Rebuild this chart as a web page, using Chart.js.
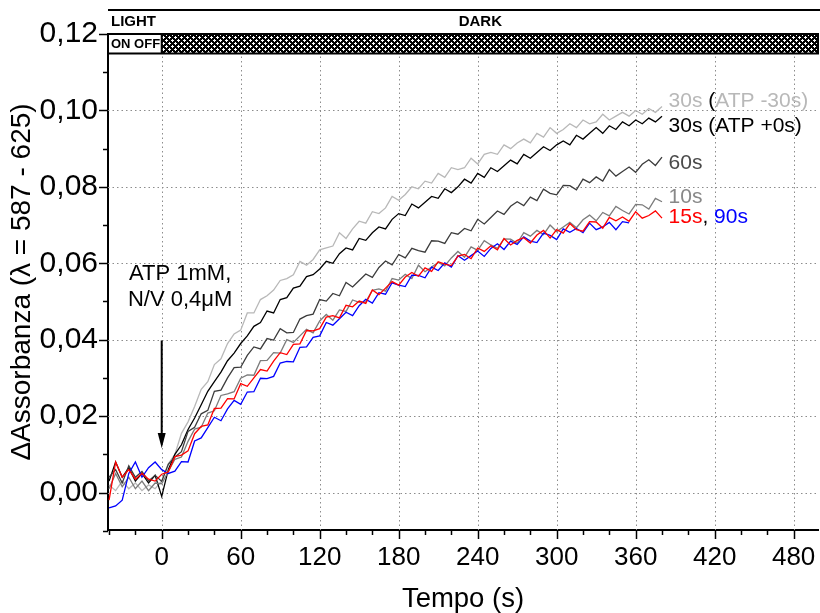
<!DOCTYPE html>
<html>
<head>
<meta charset="utf-8">
<script src="https://cdn.jsdelivr.net/npm/chart.js@4.4.0/dist/chart.umd.min.js"></script>
<style>
html, body { margin: 0; padding: 0; background: #fff; }
#wrap { width: 820px; height: 613px; }
</style>
</head>
<body>
<div id="wrap"><canvas id="grafico"></canvas></div>
<script>
// tempo (s) e ΔAssorbanza x 1000
var tempo = [-40, -35, -30, -25, -20, -15, -10, -5, 0, 5, 10, 15, 20, 25, 30, 35, 40, 45, 50, 55, 60, 65, 70, 75, 80, 85, 90, 95,
    100, 105, 110, 115, 120, 125, 130, 135, 140, 145, 150, 155, 160, 165, 170, 175, 180, 185, 190, 195, 200, 205, 210, 215,
    220, 225, 230, 235, 240, 245, 250, 255, 260, 265, 270, 275, 280, 285, 290, 295, 300, 305, 310, 315, 320, 325, 330, 335,
    340, 345, 350, 355, 360, 365, 370, 375, 380];

var atpMeno30 = [2, 0.5, 3, 1, 2.5, 0.5, 2, 1,
    3, 7.5, 10, 15.5, 18.5, 22.5, 27, 29, 33.5, 35, 39, 41.5, 42.5, 47, 47, 50.5, 51.5, 53, 55.5, 56,
    57, 60.5, 59.5, 61, 63.5, 64, 64.5, 68, 66.5, 69, 71, 70.5, 73.5, 73, 74.5, 77.5, 76.5, 78, 80, 79.5, 81.5, 81, 83.5,
    82.5, 85, 84.5, 85, 87.5, 86, 88.5, 89, 88.5, 91, 90, 91.5, 92.5, 91.5, 94, 93, 95.5, 94, 95, 96.5, 95.5, 97.5, 96.5,
    97, 99, 97.5, 98.5, 99.5, 98.5, 100, 99, 100.5, 99.5, 101];

var atpPiu0 = [3, 8, 4, 6.5, 3, 5, 2.5, 4.5,
    -1, 6, 10, 12.5, 16.5, 19.5, 23, 26.5, 29, 31.5, 34.5, 36.5, 39, 41, 43.5, 44.5, 47.5, 47, 50.5, 51,
    53.5, 54, 56.5, 57, 58.5, 60.5, 60, 62.5, 64, 63.5, 66.5, 66, 68, 69.5, 69, 71.5, 73, 72.5, 75.5, 74.5, 76, 77.5, 77,
    79.5, 78.5, 80, 82, 81, 83.5, 82.5, 85, 84, 85.5, 87, 86, 88.5, 87.5, 89, 90.5, 89.5, 91, 92, 91, 93.5, 92.5, 94, 95.5,
    94, 96, 95, 97, 96, 97.5, 96.5, 98, 97, 98.5];

var s60 = [4, 6, 2.5, 7, 4, 5.5, 3, 4.5,
    2.9, 7.4, 9.3, 10.7, 16, 17.1, 20.6, 21.5, 26.5, 26.8, 30, 32.7, 32.8, 35.9, 38.1, 37.6, 40.3, 39.9, 42.9, 41.8,
    41.9, 45.4, 46.3, 46.7, 50.5, 50.1, 52.1, 51.5, 55, 53.8, 55.5, 57.2, 56.3, 58.9, 60.6, 59.6, 62.3, 61.4, 63.9, 63.3,
    62.9, 65.9, 65.8, 65.2, 68, 67.6, 69.1, 68.5, 71.5, 70.3, 72, 73.7, 72.8, 74.9, 76.1, 75.1, 77.3, 76.4, 79.4, 78.3,
    77.9, 80.4, 80.3, 79.2, 82, 81.1, 82.6, 81.5, 84.5, 82.8, 84, 85.2, 83.8, 85.9, 87.1, 85.6, 87.8];

var s10 = [1, 5, 1.5, 4, 1, 3, 0.5, 2.5,
    2.3, 5.5, 8.7, 9.3, 13.4, 16.6, 17.1, 20.8, 21.4, 25.4, 25.8, 26.4, 29.9, 30.8, 30.7, 34.5, 34.6, 36.6, 36.5, 40,
    39.3, 41, 42.7, 41.8, 44.9, 46.6, 45.1, 47.8, 47.4, 50.4, 49.8, 49.9, 52.9, 53.3, 52.7, 56, 55.6, 57.1, 56, 59.5,
    57.8, 59, 60.2, 59.3, 61.4, 63.1, 61.6, 64.3, 63.4, 65.9, 64.8, 63.9, 66.4, 66.3, 65.2, 68, 67.1, 68.6, 67.5, 70,
    68.3, 69.5, 70.7, 69.3, 71.4, 72.6, 71.1, 73.3, 72.4, 74.9, 73.8, 72.9, 75.4, 75.3, 74.2, 77, 76.1];

var s15 = [-2, 8, 4, 6, 3.5, 5, 3.5, 3,
    4.8, 5.4, 9.4, 9.8, 10.9, 15.4, 17.3, 17.7, 22, 22.1, 24.6, 24.5, 28.5, 27.8, 30, 32.2, 31.8, 34.4, 36.6, 36.1,
    38.8, 38.9, 42.4, 42.3, 42.9, 45.9, 46.3, 45.7, 49, 48.6, 50.1, 49.5, 53, 51.8, 53.5, 55.2, 54.3, 56.4, 57.6, 56.6,
    58.8, 57.9, 60.4, 59.8, 59.4, 61.9, 62.3, 61.2, 64, 63.1, 64.6, 63.5, 66.5, 64.8, 66, 66.7, 65.3, 67.4, 68.6, 66.6,
    68.8, 67.9, 70.4, 68.8, 68.4, 70.9, 70.8, 69.2, 72, 71.1, 72.1, 71, 73.5, 71.8, 72.5, 73.7, 71.8];

var s90 = [-4, -3.5, -2, 5, 8, 4, 6.5, 8,
    6, 5, 5.6, 8.1, 8, 13.5, 14.3, 17, 19.7, 18.8, 21.9, 24.1, 23.1, 26.3, 26.4, 29.9, 29.8, 30.4, 33.9, 34.3,
    34.2, 38, 38.1, 40.6, 41, 44.5, 43.8, 45.5, 47.2, 46.3, 48.9, 50.6, 49.6, 52.3, 51.9, 54.9, 54.3, 53.9, 56.9, 56.8,
    56.2, 59, 58.1, 60.1, 59, 62, 60.8, 62, 63.2, 61.8, 63.9, 65.1, 63.6, 65.8, 64.9, 66.9, 65.8, 65.4, 67.9, 67.3,
    66.2, 69, 68.1, 69.1, 68, 70.5, 68.8, 69.5, 70.7, 68.8, 70.9, 70.6,
    null, null, null, null, null];

var tickX = [0, 60, 120, 180, 240, 300, 360, 420, 480];
var tickY = [0, 0.02, 0.04, 0.06, 0.08, 0.10, 0.12];

function punti(valori) {
    var out = [];
    for (var i = 0; i < tempo.length; i++) {
        if (valori[i] == null) continue;
        out.push({ x: tempo[i], y: valori[i] / 1000 });
    }
    return out;
}

function trama() {
    var c = document.createElement('canvas');
    c.width = 6; c.height = 6;
    var g = c.getContext('2d');
    g.fillStyle = '#000';
    g.fillRect(0, 0, 6, 6);
    g.fillStyle = '#fff';
    // due crocette bianche sfalsate
    g.fillRect(0, 1, 3, 1); g.fillRect(1, 0, 1, 3);
    g.fillRect(3, 4, 3, 1); g.fillRect(4, 3, 1, 3);
    return g.createPattern(c, 'repeat');
}

function linea(ctx, x1, y1, x2, y2) {
    ctx.beginPath();
    ctx.moveTo(x1, y1);
    ctx.lineTo(x2, y2);
    ctx.stroke();
}

function scriviPezzi(ctx, pezzi, x, y) {
    for (var i = 0; i < pezzi.length; i++) {
        ctx.fillStyle = pezzi[i][1];
        ctx.fillText(pezzi[i][0], x, y);
        x += ctx.measureText(pezzi[i][0]).width;
    }
}

var griglia = {
    id: 'griglia',
    beforeDatasetsDraw: function (chart) {
        var ctx = chart.ctx, xs = chart.scales.x, ys = chart.scales.y, area = chart.chartArea;
        ctx.save();
        ctx.strokeStyle = '#8c8c8c';
        ctx.lineWidth = 1;
        ctx.setLineDash([1.5, 3]);
        tickX.forEach(function (v) {
            var px = Math.round(xs.getPixelForValue(v)) + 0.5;
            linea(ctx, px, area.top, px, area.bottom);
        });
        tickY.forEach(function (v) {
            var py = Math.round(ys.getPixelForValue(v)) + 0.5;
            linea(ctx, area.left, py, area.right, py);
        });
        ctx.restore();
    }
};

var decorazioni = {
    id: 'decorazioni',
    afterDraw: function (chart) {
        var ctx = chart.ctx, xs = chart.scales.x, ys = chart.scales.y, area = chart.chartArea;
        var font = '"Liberation Sans", Arial, sans-serif';
        ctx.save();

        // tacche degli assi
        ctx.strokeStyle = '#000';
        ctx.lineWidth = 1.5;
        for (var t = -40; t <= 480; t += 20) {
            var px = Math.round(xs.getPixelForValue(t)) + 0.5;
            linea(ctx, px, area.bottom, px, area.bottom + (t % 60 === 0 ? 9 : 5));
        }
        for (var k = -1; k <= 12; k++) {
            var py = Math.round(ys.getPixelForValue(k / 100)) + 0.5;
            linea(ctx, area.left - (k % 2 === 0 ? 9 : 5), py, area.left, py);
        }

        // striscia LIGHT / DARK
        var yTop = area.top - 24;
        ctx.lineWidth = 2;
        linea(ctx, area.left, yTop, chart.width, yTop);
        ctx.fillStyle = '#000';
        ctx.font = 'bold 15px ' + font;
        ctx.textBaseline = 'middle';
        ctx.textAlign = 'left';
        ctx.fillText('LIGHT', area.left + 3, area.top - 12);
        ctx.textAlign = 'center';
        ctx.fillText('DARK', xs.getPixelForValue(242), area.top - 12);

        var x0 = xs.getPixelForValue(0);
        var yb = ys.getPixelForValue(0.1149);
        ctx.fillStyle = '#fff';
        ctx.fillRect(area.left, area.top, x0 - area.left, yb - area.top);
        ctx.fillStyle = trama();
        ctx.fillRect(x0, area.top, area.right - x0, yb - area.top);
        ctx.strokeRect(area.left, area.top, area.right - area.left, yb - area.top);
        linea(ctx, x0, area.top, x0, yb);
        ctx.fillStyle = '#000';
        ctx.font = 'bold 13px ' + font;
        ctx.textAlign = 'left';
        ctx.fillText('ON OFF', area.left + 3, (area.top + yb) / 2 + 1);

        // freccia ATP
        var xa = xs.getPixelForValue(0);
        ctx.lineWidth = 2;
        linea(ctx, xa, ys.getPixelForValue(0.0398), xa, ys.getPixelForValue(0.015));
        ctx.beginPath();
        ctx.moveTo(xa, ys.getPixelForValue(0.0116));
        ctx.lineTo(xa - 4, ys.getPixelForValue(0.0156));
        ctx.lineTo(xa + 4, ys.getPixelForValue(0.0156));
        ctx.closePath();
        ctx.fill();

        ctx.font = '22px ' + font;
        ctx.textAlign = 'center';
        ctx.fillText('ATP 1mM,', xs.getPixelForValue(14), ys.getPixelForValue(0.0571));
        ctx.fillText('N/V 0,4\u03BCM', xs.getPixelForValue(14), ys.getPixelForValue(0.0503));

        // etichette delle curve
        ctx.font = '21px ' + font;
        ctx.textAlign = 'left';
        var xl = xs.getPixelForValue(385);
        scriviPezzi(ctx, [['30s ', '#b8b8b8'], ['(', '#000'], ['ATP -30s)', '#b8b8b8']], xl, ys.getPixelForValue(0.1024));
        scriviPezzi(ctx, [['30s (ATP +0s)', '#000']], xl, ys.getPixelForValue(0.0959));
        scriviPezzi(ctx, [['60s', '#4a4a4a']], xl, ys.getPixelForValue(0.0862));
        scriviPezzi(ctx, [['10s', '#888888']], xl, ys.getPixelForValue(0.0773));
        scriviPezzi(ctx, [['15s', '#ff0000'], [', ', '#000'], ['90s', '#0000ff']], xl, ys.getPixelForValue(0.0720));
        ctx.restore();
    }
};

Chart.defaults.font.family = '"Liberation Sans", Arial, sans-serif';
Chart.defaults.color = '#000';

function serie(valori, colore) {
    return {
        data: punti(valori),
        borderColor: colore,
        borderWidth: 1.3,
        pointRadius: 0,
        tension: 0,
        fill: false
    };
}

var ctx = document.getElementById('grafico').getContext('2d');
var chart = new Chart(ctx, {
    type: 'line',
    data: {
        datasets: [
            serie(s15, '#ff0000'),
            serie(s90, '#0000ff'),
            serie(s10, '#7c7c7c'),
            serie(s60, '#3c3c3c'),
            serie(atpPiu0, '#000000'),
            serie(atpMeno30, '#b8b8b8')
        ]
    },
    options: {
        responsive: true,
        maintainAspectRatio: false,
        animation: false,
        layout: { padding: { top: 34, right: 2, left: 0, bottom: 0 } },
        plugins: { legend: { display: false }, tooltip: { enabled: false } },
        scales: {
            x: {
                type: 'linear',
                min: -40.8,
                max: 498.5,
                afterBuildTicks: function (s) { s.ticks = tickX.map(function (v) { return { value: v }; }); },
                afterFit: function (s) { s.height = 83; },
                ticks: { font: { size: 26 }, color: '#000', padding: 4, maxRotation: 0, autoSkip: false },
                grid: { drawOnChartArea: false, tickLength: 8, tickColor: 'rgba(0,0,0,0)' },
                border: { display: true, color: '#000', width: 2 },
                title: { display: true, text: 'Tempo (s)', color: '#000', font: { size: 27.5, lineHeight: 1 }, padding: { top: 1, bottom: 0 } }
            },
            y: {
                type: 'linear',
                min: -0.0098,
                max: 0.12,
                afterBuildTicks: function (s) { s.ticks = tickY.map(function (v) { return { value: v }; }); },
                afterFit: function (s) { s.width = 108; },
                ticks: {
                    font: { size: 30 }, color: '#000', padding: 2, autoSkip: false,
                    callback: function (v) { return v.toFixed(2).replace('.', ','); }
                },
                grid: { drawOnChartArea: false, tickLength: 8, tickColor: 'rgba(0,0,0,0)' },
                border: { display: true, color: '#000', width: 2 },
                title: { display: true, text: '\u0394Assorbanza (\u03BB = 587 - 625)', color: '#000', font: { size: 28, lineHeight: 1 }, padding: { top: 8, bottom: 0 } }
            }
        }
    },
    plugins: [griglia, decorazioni]
});
</script>
</body>
</html>
